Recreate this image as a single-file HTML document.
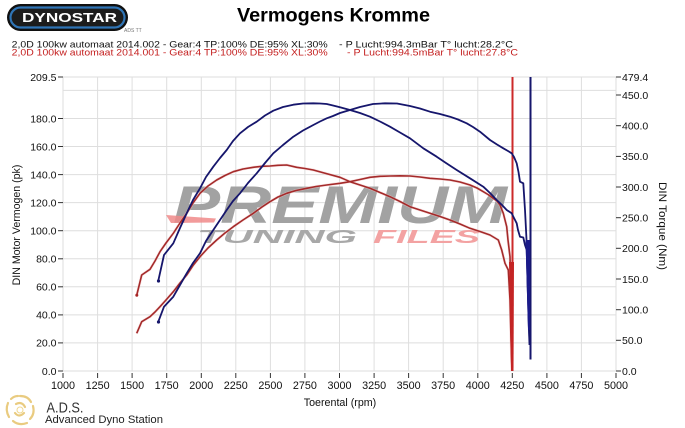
<!DOCTYPE html>
<html><head><meta charset="utf-8"><style>
html,body{margin:0;padding:0;background:#fff;}
body{width:685px;height:428px;overflow:hidden;}
svg{display:block;font-family:"Liberation Sans",Arial,sans-serif;}
</style></head><body>
<svg width="685" height="428" viewBox="0 0 685 428" xmlns="http://www.w3.org/2000/svg">
<rect width="685" height="428" fill="#fff"/>
<!-- Dynostar logo -->
<rect x="7" y="4" width="121" height="27" rx="13.5" fill="#101010"/>
<rect x="10.5" y="7.5" width="114" height="20" rx="10" fill="#1c1c1c" stroke="#2f74b5" stroke-width="2.2"/>
<text x="22" y="22" font-size="12.5" font-weight="bold" fill="#fff" textLength="95" lengthAdjust="spacingAndGlyphs">DYNOSTAR</text>
<text x="124" y="32" font-size="5" fill="#777">ADS TT</text>
<!-- Title -->
<text x="237" y="21.7" font-size="19" font-weight="bold" fill="#000" textLength="193" lengthAdjust="spacingAndGlyphs">Vermogens Kromme</text>
<!-- legend -->
<g font-size="9.5">
<text x="11.7" y="47.3" fill="#111" textLength="316" lengthAdjust="spacingAndGlyphs">2,0D 100kw automaat 2014.002 - Gear:4 TP:100% DE:95% XL:30%</text>
<text x="339" y="47.3" fill="#111" textLength="174" lengthAdjust="spacingAndGlyphs">- P Lucht:994.3mBar T° lucht:28.2°C</text>
<text x="11.7" y="55.5" fill="#c42020" textLength="316" lengthAdjust="spacingAndGlyphs">2,0D 100kw automaat 2014.001 - Gear:4 TP:100% DE:95% XL:30%</text>
<text x="347" y="55.5" fill="#c42020" textLength="171" lengthAdjust="spacingAndGlyphs">- P Lucht:994.5mBar T° lucht:27.8°C</text>
</g>
<!-- grid -->
<g stroke="#dedede" stroke-width="1" fill="none">
<line x1="63" y1="77" x2="616" y2="77"/>
<line x1="63" y1="90.4" x2="616" y2="90.4"/>
<line x1="63" y1="118.5" x2="616" y2="118.5"/>
<line x1="63" y1="146.5" x2="616" y2="146.5"/>
<line x1="63" y1="174.6" x2="616" y2="174.6"/>
<line x1="63" y1="202.6" x2="616" y2="202.6"/>
<line x1="63" y1="230.7" x2="616" y2="230.7"/>
<line x1="63" y1="258.8" x2="616" y2="258.8"/>
<line x1="63" y1="286.8" x2="616" y2="286.8"/>
<line x1="63" y1="314.9" x2="616" y2="314.9"/>
<line x1="63" y1="342.9" x2="616" y2="342.9"/>
<line x1="63" y1="371" x2="616" y2="371"/>
<line x1="63" y1="77" x2="63" y2="371"/>
<line x1="97.6" y1="77" x2="97.6" y2="371"/>
<line x1="132.1" y1="77" x2="132.1" y2="371"/>
<line x1="166.7" y1="77" x2="166.7" y2="371"/>
<line x1="201.3" y1="77" x2="201.3" y2="371"/>
<line x1="235.8" y1="77" x2="235.8" y2="371"/>
<line x1="270.4" y1="77" x2="270.4" y2="371"/>
<line x1="304.9" y1="77" x2="304.9" y2="371"/>
<line x1="339.5" y1="77" x2="339.5" y2="371"/>
<line x1="374.1" y1="77" x2="374.1" y2="371"/>
<line x1="408.6" y1="77" x2="408.6" y2="371"/>
<line x1="443.2" y1="77" x2="443.2" y2="371"/>
<line x1="477.8" y1="77" x2="477.8" y2="371"/>
<line x1="512.3" y1="77" x2="512.3" y2="371"/>
<line x1="546.9" y1="77" x2="546.9" y2="371"/>
<line x1="581.4" y1="77" x2="581.4" y2="371"/>
<line x1="616" y1="77" x2="616" y2="371"/>
</g>
<!-- watermark -->
<g font-weight="bold" font-style="italic">
<text x="173" y="223" font-size="53" fill="#a2a2a2" textLength="334" lengthAdjust="spacingAndGlyphs">PREMIUM</text>
<polygon points="166,215 216,218.5 214,222.5 171,223" fill="#f08a8a" opacity="0.85"/>
<text x="197" y="243" font-size="18" fill="#a8a8a8" textLength="160" lengthAdjust="spacingAndGlyphs">TUNING</text>
<text x="373" y="243" font-size="18" fill="#f3a2a2" textLength="107" lengthAdjust="spacingAndGlyphs">FILES</text>
</g>
<!-- ticks -->
<g stroke="#333" stroke-width="1">
<line x1="58" y1="77" x2="63" y2="77"/><line x1="58" y1="118.5" x2="63" y2="118.5"/><line x1="58" y1="146.5" x2="63" y2="146.5"/><line x1="58" y1="174.6" x2="63" y2="174.6"/><line x1="58" y1="202.6" x2="63" y2="202.6"/><line x1="58" y1="230.7" x2="63" y2="230.7"/><line x1="58" y1="258.8" x2="63" y2="258.8"/><line x1="58" y1="286.8" x2="63" y2="286.8"/><line x1="58" y1="314.9" x2="63" y2="314.9"/><line x1="58" y1="342.9" x2="63" y2="342.9"/><line x1="58" y1="371" x2="63" y2="371"/>
<line x1="616" y1="77" x2="621" y2="77"/><line x1="616" y1="95" x2="621" y2="95"/><line x1="616" y1="125.7" x2="621" y2="125.7"/><line x1="616" y1="156.4" x2="621" y2="156.4"/><line x1="616" y1="187" x2="621" y2="187"/><line x1="616" y1="217.7" x2="621" y2="217.7"/><line x1="616" y1="248.3" x2="621" y2="248.3"/><line x1="616" y1="279" x2="621" y2="279"/><line x1="616" y1="309.7" x2="621" y2="309.7"/><line x1="616" y1="340.3" x2="621" y2="340.3"/><line x1="616" y1="371" x2="621" y2="371"/>
<line x1="63" y1="373" x2="63" y2="378"/><line x1="97.6" y1="373" x2="97.6" y2="378"/><line x1="132.1" y1="373" x2="132.1" y2="378"/><line x1="166.7" y1="373" x2="166.7" y2="378"/><line x1="201.3" y1="373" x2="201.3" y2="378"/><line x1="235.8" y1="373" x2="235.8" y2="378"/><line x1="270.4" y1="373" x2="270.4" y2="378"/><line x1="304.9" y1="373" x2="304.9" y2="378"/><line x1="339.5" y1="373" x2="339.5" y2="378"/><line x1="374.1" y1="373" x2="374.1" y2="378"/><line x1="408.6" y1="373" x2="408.6" y2="378"/><line x1="443.2" y1="373" x2="443.2" y2="378"/><line x1="477.8" y1="373" x2="477.8" y2="378"/><line x1="512.3" y1="373" x2="512.3" y2="378"/><line x1="546.9" y1="373" x2="546.9" y2="378"/><line x1="581.4" y1="373" x2="581.4" y2="378"/><line x1="616" y1="373" x2="616" y2="378"/>
</g>
<!-- left labels -->
<g font-size="10.5" fill="#111" text-anchor="end">
<text x="56.5" y="80.8">209.5</text><text x="56.5" y="122.3">180.0</text><text x="56.5" y="150.3">160.0</text><text x="56.5" y="178.4">140.0</text><text x="56.5" y="206.4">120.0</text><text x="56.5" y="234.5">100.0</text><text x="56.5" y="262.6">80.0</text><text x="56.5" y="290.6">60.0</text><text x="56.5" y="318.7">40.0</text><text x="56.5" y="346.7">20.0</text><text x="56.5" y="374.8">0.0</text>
</g>
<!-- right labels -->
<g font-size="10.5" fill="#111">
<text x="622" y="80.8">479.4</text><text x="622" y="98.8">450.0</text><text x="622" y="129.5">400.0</text><text x="622" y="160.2">350.0</text><text x="622" y="190.8">300.0</text><text x="622" y="221.5">250.0</text><text x="622" y="252.1">200.0</text><text x="622" y="282.8">150.0</text><text x="622" y="313.5">100.0</text><text x="622" y="344.1">50.0</text><text x="622" y="374.8">0.0</text>
</g>
<!-- bottom labels -->
<g font-size="10.8" fill="#111" text-anchor="middle">
<text x="63" y="389">1000</text><text x="97.6" y="389">1250</text><text x="132.1" y="389">1500</text><text x="166.7" y="389">1750</text><text x="201.3" y="389">2000</text><text x="235.8" y="389">2250</text><text x="270.4" y="389">2500</text><text x="304.9" y="389">2750</text><text x="339.5" y="389">3000</text><text x="374.1" y="389">3250</text><text x="408.6" y="389">3500</text><text x="443.2" y="389">3750</text><text x="477.8" y="389">4000</text><text x="512.3" y="389">4250</text><text x="546.9" y="389">4500</text><text x="581.4" y="389">4750</text><text x="616" y="389">5000</text>
</g>
<text x="340" y="406" font-size="10.7" fill="#111" text-anchor="middle">Toerental (rpm)</text>
<text transform="translate(20,225) rotate(-90)" font-size="10.6" fill="#111" text-anchor="middle">DIN Motor Vermogen (pk)</text>
<text transform="translate(659,226) rotate(90)" font-size="10.8" fill="#111" text-anchor="middle" textLength="88" lengthAdjust="spacingAndGlyphs">DIN Torque (Nm)</text>
<!-- curves: red halo -->
<g fill="none" stroke="#f3c4c4" stroke-width="2.8" stroke-linejoin="round" opacity="0.5">
<polyline points="136.7,295.3 141.7,275 150,269.3 155,261 160,251.7 166,243 173.3,233.3 180,223 186.7,213.3 193,203 200,193.3 208,186 216.7,180 225,175.5 233.3,171.7 243,169 253.3,167.3 262,166.3 270,166 278,165.3 286.7,165 296.7,167.3 305,168.5 313.3,170 326,173.5 340,177.3 350,181.7 360,185 370,188.3 380,192.5 390,196.7 400,201.5 410,206.7 420,210 430,213.3 440,216.5 450,220 460,224 470,228.3 480,231.5 490,235 495,238 498.3,240 501.7,250 505,263.3 508.3,270 510,300 511,340 512,371"/>
<polyline points="136.7,333.3 141.7,321.7 150,316.7 155,312 160,306.7 166,300 173.3,291.7 180,283 186.7,275 193,265.5 200,256.7 208,248 216.7,240 225,233 233.3,226.7 243,220 253.3,213.3 262,207 270,201.7 278,197 286.7,193.3 296,190.5 306.7,188.3 316,186.5 326.7,185 340,183.3 350,181.7 360,179.5 370,177.3 380,176.3 390,176 400,175.8 410,176 420,177 430,178.3 440,179 450,180 460,182 470,185 477,188 483.3,191.7 488,194.5 493.3,198.3 497,201 500,205 503.3,213.3 506.7,226.7 508,240 510,256.7 511,300 512,371"/>
</g>
<g fill="none" stroke="#a42a2a" stroke-width="1.6" stroke-linejoin="round">
<polyline points="136.7,295.3 141.7,275 150,269.3 155,261 160,251.7 166,243 173.3,233.3 180,223 186.7,213.3 193,203 200,193.3 208,186 216.7,180 225,175.5 233.3,171.7 243,169 253.3,167.3 262,166.3 270,166 278,165.3 286.7,165 296.7,167.3 305,168.5 313.3,170 326,173.5 340,177.3 350,181.7 360,185 370,188.3 380,192.5 390,196.7 400,201.5 410,206.7 420,210 430,213.3 440,216.5 450,220 460,224 470,228.3 480,231.5 490,235 495,238 498.3,240 501.7,250 505,263.3 508.3,270 510,300 511,340 512,371"/>
<polyline points="136.7,333.3 141.7,321.7 150,316.7 155,312 160,306.7 166,300 173.3,291.7 180,283 186.7,275 193,265.5 200,256.7 208,248 216.7,240 225,233 233.3,226.7 243,220 253.3,213.3 262,207 270,201.7 278,197 286.7,193.3 296,190.5 306.7,188.3 316,186.5 326.7,185 340,183.3 350,181.7 360,179.5 370,177.3 380,176.3 390,176 400,175.8 410,176 420,177 430,178.3 440,179 450,180 460,182 470,185 477,188 483.3,191.7 488,194.5 493.3,198.3 497,201 500,205 503.3,213.3 506.7,226.7 508,240 510,256.7 511,300 512,371"/>
</g>
<line x1="512.5" y1="77" x2="512.5" y2="371" stroke="#cc2a2a" stroke-width="2"/>
<polygon points="509,262 514,262 513.5,371 511,371" fill="#c42424"/>
<!-- blue -->
<g fill="none" stroke="#16166c" stroke-width="1.8" stroke-linejoin="round">
<polyline points="158.3,280.7 164,255 173.3,243.3 180,228 186.7,213.3 193,200 200,188.3 206,177 213.3,166.7 220,158 226.7,150 233,141 240,133.3 248,127 256.7,121.7 265,115.5 273.3,110.7 283,107 293.3,104.7 303,103.5 313.3,103.3 320,103.5 326.7,104 333,105.5 340,107.3 350,110 360,113 370,116.7 380,121.5 390,126.7 400,132.5 410,138.3 423.3,148.3 436.7,156.7 446,163 456.7,170 470,178.3 483.3,186.7 490,193 496.7,200 502,205 506.7,210 511.7,213.3 514,218 516.7,223.3 518,230 520,236.7 523.3,237.5 525,245 526.7,250 527.5,280 528.5,316.7 529.5,345"/>
<polyline points="158.3,321.7 164,306.7 173.3,296.7 180,285 186.7,273.3 193,263 200,253.3 206,241 213.3,230 220,220 226.7,210 233,201 240,193.3 248,183 256.7,173.3 265,163 273.3,153.3 283,145 293.3,136.7 303,130.5 313.3,125 320,121.5 326.7,118.3 333,116 340,113 350,110 360,107 373,104 385,103.3 397,103.5 410,106 420,108.5 430,111.7 440,114 450,116.7 458,119.5 466.7,123.3 473,127 480,131.7 490,140 497,144.5 503.3,148.3 508,151 511.7,153.3 514,157 516.7,163.3 518.5,172 520,181.7 523.3,183.3 525,210 526.7,243.3 528.3,303 529.5,340"/>
</g>
<line x1="530.5" y1="77" x2="530.5" y2="359.5" stroke="#16166c" stroke-width="2"/>
<polygon points="525.5,240 530,240 530,330 528,330" fill="#1a1a8a"/>
<circle cx="158.5" cy="281" r="1.6" fill="#16166c"/>
<circle cx="158.5" cy="322" r="1.6" fill="#16166c"/>
<circle cx="136.8" cy="295.3" r="1.5" fill="#a82626"/>
<!-- bottom-left logo -->
<g fill="none" stroke="#e6c36a" stroke-width="2.2" stroke-linecap="round" opacity="0.85">
<path d="M20,396 Q28,396 31,402"/>
<path d="M33,406 Q35,414 30,419"/>
<path d="M27,423 Q19,426 13,421"/>
<path d="M9,417 Q5,410 8,403"/>
<path d="M11,399 Q14,396 18,396"/>
<path d="M16,404 Q22,401 25,407"/>
<path d="M24,413 Q19,418 15,413"/>
</g>
<circle cx="20" cy="410" r="3" fill="none" stroke="#f0d890" stroke-width="1"/>
<text x="46.5" y="412.5" font-size="15" fill="#333" textLength="37" lengthAdjust="spacingAndGlyphs">A.D.S.</text>
<text x="45" y="423" font-size="11.3" fill="#222" textLength="118" lengthAdjust="spacingAndGlyphs">Advanced Dyno Station</text>
</svg>
</body></html>
